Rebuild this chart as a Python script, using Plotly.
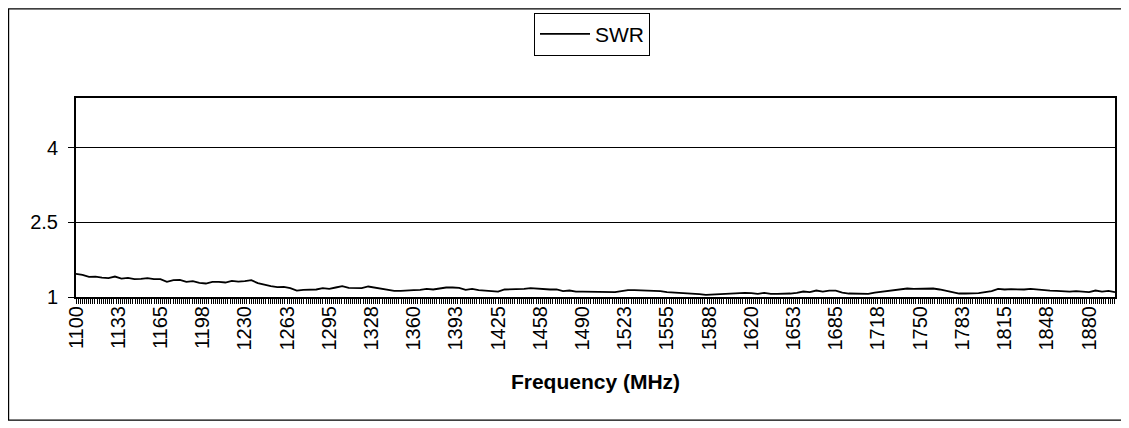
import plotly.graph_objects as go

# ---- data ----
freq_start = 1100
freq_step = 5
swr = [
    1.465, 1.445, 1.405, 1.411, 1.391, 1.378, 1.411, 1.371, 1.385, 1.358,
    1.365, 1.378, 1.358, 1.358, 1.304, 1.338, 1.345, 1.304, 1.318, 1.284,
    1.271, 1.304, 1.304, 1.291, 1.324, 1.311, 1.318, 1.338, 1.278, 1.244,
    1.217, 1.197, 1.204, 1.177, 1.130, 1.144, 1.144, 1.151, 1.177, 1.164,
    1.191, 1.217, 1.184, 1.177, 1.177, 1.211, 1.191, 1.157, 1.144, 1.124,
    1.124, 1.137, 1.137, 1.144, 1.164, 1.151, 1.177, 1.191, 1.191, 1.184,
    1.144, 1.164, 1.137, 1.130, 1.130, 1.110, 1.151, 1.151, 1.151, 1.164,
    1.177, 1.164, 1.164, 1.151, 1.151, 1.117, 1.130, 1.110, 1.110, 1.110,
    1.110, 1.097, 1.110, 1.097, 1.117, 1.137, 1.137, 1.130, 1.130, 1.130,
    1.117, 1.097, 1.090, 1.077, 1.070, 1.077, 1.057, 1.044, 1.050, 1.070,
    1.077, 1.070, 1.084, 1.084, 1.077, 1.064, 1.084, 1.064, 1.064, 1.064,
    1.070, 1.084, 1.110, 1.097, 1.130, 1.110, 1.130, 1.130, 1.090, 1.070,
    1.064, 1.070, 1.064, 1.090, 1.104, 1.124, 1.144, 1.151, 1.171, 1.164,
    1.164, 1.164, 1.171, 1.151, 1.124, 1.097, 1.070, 1.070, 1.070, 1.077,
    1.097, 1.117, 1.164, 1.151, 1.157, 1.151, 1.151, 1.164, 1.151, 1.130,
    1.130, 1.124, 1.110, 1.110, 1.117, 1.104, 1.097, 1.130, 1.110, 1.124,
    1.097,
]
frequencies = [freq_start + freq_step * i for i in range(len(swr))]

x_tick_values = [1100 + 32.5 * k for k in range(25)]
x_tick_labels = ["1100", "1133", "1165", "1198", "1230", "1263", "1295", "1328",
                 "1360", "1393", "1425", "1458", "1490", "1523", "1555", "1588",
                 "1620", "1653", "1685", "1718", "1750", "1783", "1815", "1848",
                 "1880"]
y_tick_values = [1, 2.5, 4]
y_tick_labels = ["1", "2.5", "4"]

FONT = "Liberation Sans, Arial, sans-serif"

fig = go.Figure()
fig.add_trace(go.Scatter(
    x=frequencies, y=swr, mode="lines", name="SWR",
    line=dict(color="black", width=1.8),
))

# the page body has an 8 px margin, so figure coords = page coords - 8
OFF = 8
W, H = 1129 - OFF, 428 - OFF
PL, PR, PT, PB = 76, 1115, 98, 297.5          # plot area in page pixels
L, R, T, B = PL - OFF, W - (PR - OFF), PT - OFF, H - (PB - OFF)
pw, ph = W - L - R, H - T - B

def px(xp):
    return (xp - OFF - L) / pw

def py(yp):
    return (H - B - (yp - OFF)) / ph

fig.update_layout(
    width=W, height=H,
    margin=dict(l=L, r=R, t=T, b=B, autoexpand=False),
    paper_bgcolor="white", plot_bgcolor="white",
    font=dict(family=FONT, size=20, color="black"),
    showlegend=True,
    legend=dict(
        x=px(534), y=py(12.5), xanchor="left", yanchor="top",
        bordercolor="black", borderwidth=1, bgcolor="white",
        font=dict(family=FONT, size=21, color="black"),
        itemwidth=50,
    ),
    shapes=[dict(
        type="rect", xref="paper", yref="paper",
        x0=px(8.6), x1=px(1122), y0=py(421), y1=py(8.6),
        line=dict(color="black", width=1.2), fillcolor="rgba(0,0,0,0)",
        layer="below",
    )],
)

fig.update_xaxes(
    range=[1100, 1900],
    tickmode="array", tickvals=x_tick_values, ticktext=x_tick_labels,
    tickangle=-90, ticks="outside", ticklen=5, tickcolor="black", tickwidth=1,
    ticklabelstandoff=-6,
    tickfont=dict(family=FONT, size=20, color="black"),
    minor=dict(ticks="outside", dtick=1.625, tick0=1100, ticklen=5,
               tickcolor="black", tickwidth=1, showgrid=False),
    showgrid=False, zeroline=False,
    showline=True, linecolor="black", linewidth=2, mirror=True,
    title=dict(text="<b>Frequency (MHz)</b>", standoff=25,
               font=dict(family=FONT, size=21, color="black")),
)
fig.update_yaxes(
    range=[1, 5],
    tickmode="array", tickvals=y_tick_values, ticktext=y_tick_labels,
    ticks="outside", ticklen=6, tickcolor="black", tickwidth=1,
    ticklabelstandoff=6,
    tickfont=dict(family=FONT, size=20, color="black"),
    showgrid=True, gridcolor="black", gridwidth=1, zeroline=False,
    showline=True, linecolor="black", linewidth=2, mirror=True,
)

fig.write_html("out.html")
